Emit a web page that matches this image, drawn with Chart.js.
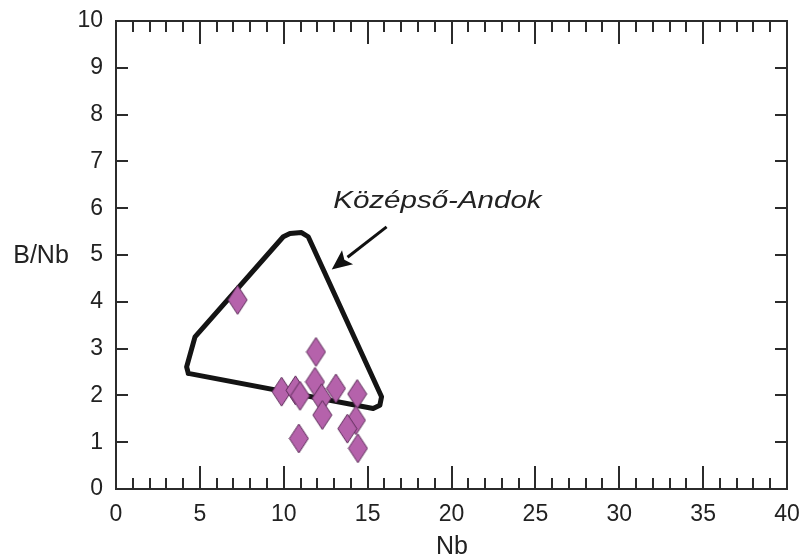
<!DOCTYPE html>
<html lang="hu">
<head>
<meta charset="UTF-8">
<title>B/Nb - Nb</title>
<script src="https://cdn.jsdelivr.net/npm/chart.js@4.4.1/dist/chart.umd.min.js"></script>
<style>
  html, body { margin: 0; padding: 0; background: #fff; }
  #wrap { width: 805px; height: 560px; }
</style>
</head>
<body>
<div id="wrap"><canvas id="chart" width="805" height="560"></canvas></div>
<script>
// minták (Nb, B/Nb)
var nbVals  = [7.25, 9.87, 10.7, 10.97, 11.86, 11.92, 12.26, 12.3, 13.11, 14.38, 14.3, 13.79, 10.9, 14.42];
var bnbVals = [4.04, 2.08, 2.11, 1.99, 2.29, 2.93, 1.94, 1.58, 2.15, 2.03, 1.47, 1.29, 1.08, 0.87];

// Középső-Andok mező körvonala
var fieldNb  = [4.31, 15.33, 15.73, 15.83, 11.46, 11.06, 10.37, 9.97, 4.71, 4.21, 4.31];
var fieldBNb = [2.47, 1.72, 1.79, 1.97, 5.39, 5.48, 5.46, 5.39, 3.25, 2.61, 2.47];

var xTicks = [0, 5, 10, 15, 20, 25, 30, 35, 40];
var yTicks = [0, 1, 2, 3, 4, 5, 6, 7, 8, 9, 10];

// felirat és nyíl (adatkoordinátákban)
var labelText = 'Középső-Andok';
var labelPos = [19.16, 6.15];
var arrowFrom = [16.13, 5.6];
var arrowTo = [12.86, 4.69];

function pts(xs, ys) {
  return xs.map(function (x, i) { return { x: x, y: ys[i] }; });
}

// elnyújtott rombusz jelölő
var diamond = document.createElement('canvas');
diamond.width = 21; diamond.height = 31;
(function () {
  var c = diamond.getContext('2d');
  c.beginPath();
  c.moveTo(10.5, 1);
  c.lineTo(20, 15.5);
  c.lineTo(10.5, 30);
  c.lineTo(1, 15.5);
  c.closePath();
  c.fillStyle = '#b562ab';
  c.fill();
  c.lineWidth = 1;
  c.strokeStyle = '#5b2c58';
  c.stroke();
})();

var FONT = '"Liberation Sans", Arial, Helvetica, sans-serif';

var framePlugin = {
  id: 'frame',
  afterDraw: function (chart) {
    var ctx = chart.ctx, a = chart.chartArea;
    var xs = chart.scales.x, ys = chart.scales.y;
    ctx.save();
    ctx.strokeStyle = '#2b2b2b';
    ctx.lineWidth = 2;
    ctx.strokeRect(a.left, a.top, a.right - a.left, a.bottom - a.top);
    ctx.beginPath();
    for (var v = 1; v < 40; v++) {
      var px = Math.round(xs.getPixelForValue(v));
      var len = (v % 5 === 0) ? 23 : 11;
      ctx.moveTo(px, a.bottom); ctx.lineTo(px, a.bottom - len);
      ctx.moveTo(px, a.top); ctx.lineTo(px, a.top + len);
    }
    for (var w = 1; w < 10; w++) {
      var py = Math.round(ys.getPixelForValue(w));
      ctx.moveTo(a.left, py); ctx.lineTo(a.left + 12, py);
      ctx.moveTo(a.right, py); ctx.lineTo(a.right - 12, py);
    }
    ctx.stroke();

    // tengelycímek
    ctx.fillStyle = '#222';
    ctx.font = '25px ' + FONT;
    ctx.textAlign = 'center';
    ctx.textBaseline = 'middle';
    ctx.fillText('Nb', 452, 547);
    ctx.fillText('B/Nb', 41, ys.getPixelForValue(5) + 1);

    // nyíl
    var x0 = xs.getPixelForValue(arrowFrom[0]), y0 = ys.getPixelForValue(arrowFrom[1]);
    var x1 = xs.getPixelForValue(arrowTo[0]), y1 = ys.getPixelForValue(arrowTo[1]);
    var ang = Math.atan2(y1 - y0, x1 - x0);
    var hl = 20, hw = 9;
    var bx = x1 - hl * Math.cos(ang), by = y1 - hl * Math.sin(ang);
    ctx.strokeStyle = '#111';
    ctx.lineWidth = 3;
    ctx.beginPath();
    ctx.moveTo(x0, y0); ctx.lineTo(bx, by);
    ctx.stroke();
    ctx.fillStyle = '#111';
    ctx.beginPath();
    ctx.moveTo(x1, y1);
    ctx.lineTo(bx + hw * Math.sin(ang), by - hw * Math.cos(ang));
    ctx.lineTo(bx + 4 * Math.cos(ang), by + 4 * Math.sin(ang));
    ctx.lineTo(bx - hw * Math.sin(ang), by + hw * Math.cos(ang));
    ctx.closePath();
    ctx.fill();

    // felirat
    var lx = xs.getPixelForValue(labelPos[0]), ly = ys.getPixelForValue(labelPos[1]);
    ctx.translate(lx, ly);
    ctx.scale(1.23, 1);
    ctx.fillStyle = '#222';
    ctx.font = 'italic 24px ' + FONT;
    ctx.fillText(labelText, 0, 0);
    ctx.restore();
  }
};

new Chart(document.getElementById('chart'), {
  type: 'scatter',
  data: {
    datasets: [{
      label: 'minták',
      data: pts(nbVals, bnbVals),
      pointStyle: diamond,
      pointRadius: 10,
      showLine: false
    }, {
      label: 'Középső-Andok',
      data: pts(fieldNb, fieldBNb),
      showLine: true,
      borderColor: '#141414',
      borderWidth: 5,
      borderJoinStyle: 'round',
      borderCapStyle: 'round',
      tension: 0,
      pointRadius: 0,
      fill: false
    }]
  },
  options: {
    responsive: false,
    animation: false,
    layout: { padding: { top: 21, right: 18, left: 0, bottom: 0 } },
    plugins: { legend: { display: false }, tooltip: { enabled: false } },
    scales: {
      x: {
        type: 'linear', min: 0, max: 40,
        afterBuildTicks: function (s) { s.ticks = xTicks.map(function (v) { return { value: v }; }); },
        afterFit: function (s) { s.height = 71; s.paddingLeft = 0; s.paddingRight = 0; },
        grid: { display: false, drawTicks: false },
        border: { display: false },
        ticks: { padding: 12, color: '#222', font: { family: FONT, size: 23 } }
      },
      y: {
        type: 'linear', min: 0, max: 10,
        afterBuildTicks: function (s) { s.ticks = yTicks.map(function (v) { return { value: v }; }); },
        afterFit: function (s) { s.width = 116; s.paddingTop = 0; s.paddingBottom = 0; },
        grid: { display: false, drawTicks: false },
        border: { display: false },
        ticks: { padding: 13, color: '#222', font: { family: FONT, size: 23 } }
      }
    }
  },
  plugins: [framePlugin]
});
</script>
</body>
</html>
